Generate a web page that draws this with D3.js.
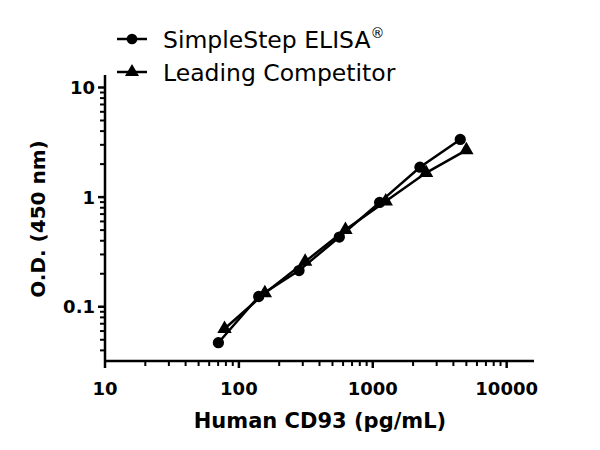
<!DOCTYPE html>
<html>
<head>
<meta charset="utf-8">
<script src="https://cdn.jsdelivr.net/npm/d3@7"></script>
<style>
  body { margin: 0; background: #fff; }
  text { font-family: "DejaVu Sans", sans-serif; fill: #000; }
</style>
</head>
<body>
<div id="chart"></div>
<script>
// standard curve data
const seriesNames = ['SimpleStep ELISA\u00AE', 'Leading Competitor'];
const simpleStepConc = [70.3, 140.6, 281.25, 562.5, 1125, 2250, 4500];
const simpleStepOD = [0.047, 0.124, 0.214, 0.432, 0.895, 1.875, 3.36];
const competitorConc = [78.1, 156.25, 312.5, 625, 1250, 2500, 5000];
const competitorOD = [0.063, 0.133, 0.258, 0.504, 0.915, 1.666, 2.68];
const xTickLabels = ['10', '100', '1000', '10000'];
const yTickLabels = ['0.1', '1', '10'];

const width = 600, height = 450;

const svg = d3.select('#chart').append('svg')
  .attr('width', width)
  .attr('height', height);

const x = d3.scaleLog().domain([10, 16000]).range([105, 534]);
const y = d3.scaleLog().domain([0.032, 13]).range([361, 75]);

// minor ticks for a log axis
function minorTicks(domain) {
  const out = [];
  for (let e = -3; e <= 5; e++) {
    for (let m = 2; m <= 9; m++) {
      const v = m * Math.pow(10, e);
      if (v >= domain[0] && v <= domain[1]) out.push(v);
    }
  }
  return out;
}

// x axis
const xAxis = svg.append('g').attr('transform', 'translate(0,361)');
xAxis.append('line')
  .attr('x1', 105).attr('x2', 534)
  .attr('stroke', '#000').attr('stroke-width', 2.5);
xAxis.selectAll('.minor')
  .data(minorTicks(x.domain()))
  .enter().append('line')
  .attr('x1', d => x(d)).attr('x2', d => x(d))
  .attr('y1', 0).attr('y2', 5)
  .attr('stroke', '#000').attr('stroke-width', 2);
xAxis.selectAll('.major')
  .data(xTickLabels)
  .enter().append('line')
  .attr('x1', d => x(+d)).attr('x2', d => x(+d))
  .attr('y1', 0).attr('y2', 7)
  .attr('stroke', '#000').attr('stroke-width', 2.5);
xAxis.selectAll('.lab')
  .data(xTickLabels)
  .enter().append('text')
  .attr('x', d => x(+d))
  .attr('y', 34)
  .attr('text-anchor', 'middle')
  .style('font-size', '18px')
  .style('font-weight', 'bold')
  .text(d => d);

// y axis
const yAxis = svg.append('g').attr('transform', 'translate(105,0)');
yAxis.append('line')
  .attr('y1', 75).attr('y2', 361)
  .attr('stroke', '#000').attr('stroke-width', 2.5);
yAxis.selectAll('.minor')
  .data(minorTicks(y.domain()))
  .enter().append('line')
  .attr('x1', 0).attr('x2', -5)
  .attr('y1', d => y(d)).attr('y2', d => y(d))
  .attr('stroke', '#000').attr('stroke-width', 2);
yAxis.selectAll('.major')
  .data(yTickLabels)
  .enter().append('line')
  .attr('x1', 0).attr('x2', -7)
  .attr('y1', d => y(+d)).attr('y2', d => y(+d))
  .attr('stroke', '#000').attr('stroke-width', 2.5);
yAxis.selectAll('.lab')
  .data(yTickLabels)
  .enter().append('text')
  .attr('x', -10)
  .attr('y', d => y(+d))
  .attr('dy', '0.36em')
  .attr('text-anchor', 'end')
  .style('font-size', '18px')
  .style('font-weight', 'bold')
  .text(d => d);

// axis titles
svg.append('text')
  .attr('x', 320).attr('y', 428)
  .attr('text-anchor', 'middle')
  .style('font-size', '21px')
  .style('font-weight', 'bold')
  .text('Human CD93 (pg/mL)');
svg.append('text')
  .attr('transform', 'translate(45,219) rotate(-90)')
  .attr('text-anchor', 'middle')
  .style('font-size', '20px')
  .style('font-weight', 'bold')
  .text('O.D. (450 nm)');

// series
const series = [
  {name: seriesNames[0], conc: simpleStepConc, od: simpleStepOD, shape: d3.symbolCircle},
  {name: seriesNames[1], conc: competitorConc, od: competitorOD, shape: d3.symbolTriangle}
];

const line = d3.line().x(d => x(d[0])).y(d => y(d[1]));

series.forEach(s => {
  const pts = s.conc.map((c, i) => [c, s.od[i]]);
  svg.append('path')
    .attr('d', line(pts))
    .attr('fill', 'none')
    .attr('stroke', '#000')
    .attr('stroke-width', 2.5);
  svg.selectAll(null)
    .data(pts)
    .enter().append('path')
    .attr('transform', d => 'translate(' + x(d[0]) + ',' + y(d[1]) + ')')
    .attr('d', d3.symbol().type(s.shape).size(s.shape === d3.symbolCircle ? 100 : 90))
    .attr('fill', '#000');
});

// legend
const legend = svg.append('g');
series.forEach((s, i) => {
  const ly = 39 + i * 33;
  legend.append('line')
    .attr('x1', 117).attr('x2', 147)
    .attr('y1', ly).attr('y2', ly)
    .attr('stroke', '#000').attr('stroke-width', 2.5);
  legend.append('path')
    .attr('transform', 'translate(132,' + ly + ')')
    .attr('d', d3.symbol().type(s.shape).size(s.shape === d3.symbolCircle ? 90 : 85))
    .attr('fill', '#000');
  const t = legend.append('text')
    .attr('x', 163).attr('y', ly + 9)
    .style('font-size', '23.5px');
  if (i === 0) {
    t.text('SimpleStep ELISA');
    t.append('tspan').attr('dy', -10).style('font-size', '14px').text('\u00AE');
  } else {
    t.text(s.name);
  }
});
</script>
</body>
</html>
